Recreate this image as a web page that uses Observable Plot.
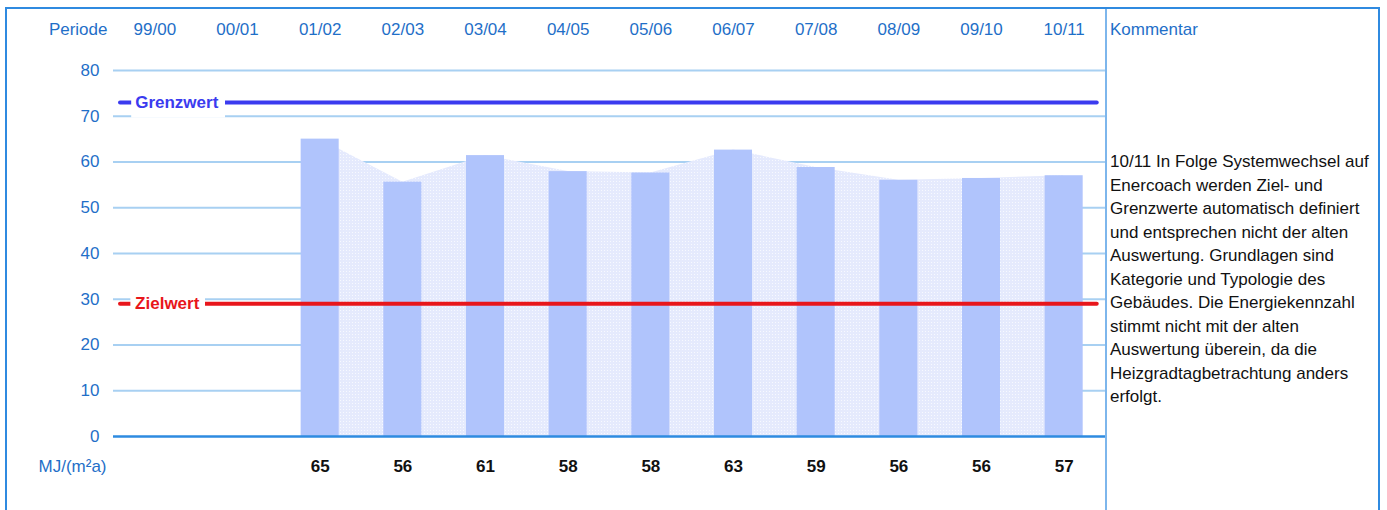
<!DOCTYPE html>
<html>
<head>
<meta charset="utf-8">
<script src="https://cdn.jsdelivr.net/npm/d3@7"></script>
<script src="https://cdn.jsdelivr.net/npm/@observablehq/plot@0.6"></script>
<style>
  html, body { margin: 0; padding: 0; background: #fff; }
  body { width: 1387px; height: 510px; position: relative; overflow: hidden;
         font-family: Arial, "Liberation Sans", sans-serif; }
  #chart { position: absolute; left: 0; top: 0; }
  #frame { position: absolute; left: 5px; top: 7px; width: 1375px; height: 540px;
           border: 2px solid #2f8ae0; box-sizing: border-box; pointer-events: none; }
  #divider { position: absolute; left: 1105px; top: 8px; width: 2px; height: 510px; background: #7db6ec; }
  #kommentar { position: absolute; left: 1110px; top: 19px; font-size: 17px; color: #1f6fc8; line-height: 22px; }
  #comment { position: absolute; left: 1110px; top: 150px; font-size: 17px; line-height: 23.5px; color: #111; white-space: nowrap; }
</style>
</head>
<body>
<div id="chart"></div>
<div id="divider"></div>
<div id="kommentar"></div>
<div id="comment"></div>
<div id="frame"></div>
<script>
// ---- data ----
const periods = ["99/00","00/01","01/02","02/03","03/04","04/05","05/06","06/07","07/08","08/09","09/10","10/11"];
const values  = [null, null, 65.0, 55.6, 61.4, 57.9, 57.6, 62.6, 58.8, 56.0, 56.4, 57.0];
const yTicks  = [0, 10, 20, 30, 40, 50, 60, 70, 80];
const grenzwert = 73;
const zielwert  = 29;
const headerLabel = "Periode";
const unitLabel = "MJ/(m²a)";
const commentTitle = "Kommentar";
const commentLines = [
  "10/11 In Folge Systemwechsel auf",
  "Enercoach werden Ziel- und",
  "Grenzwerte automatisch definiert",
  "und entsprechen nicht der alten",
  "Auswertung. Grundlagen sind",
  "Kategorie und Typologie des",
  "Gebäudes. Die Energiekennzahl",
  "stimmt nicht mit der alten",
  "Auswertung überein, da die",
  "Heizgradtagbetrachtung anders",
  "erfolgt."
];

const rows = periods.map((p, i) => ({i, period: p, value: values[i]}));
const withData = rows.filter(d => d.value != null);
const refs = [
  {name: "Grenzwert", value: grenzwert, color: "#3b3bef", labelX: 0.265, boxX1: -0.28, boxX2: 0.855},
  {name: "Zielwert",  value: zielwert,  color: "#e8161b", labelX: 0.15,  boxX1: -0.29, boxX2: 0.613}
];

const blue = "#1f6fc8";
const W = 0.23;

const chart = Plot.plot({
  width: 1106,
  height: 510,
  marginLeft: 113,
  marginRight: 1,
  marginTop: 70,
  marginBottom: 74,
  style: {fontFamily: "Arial, 'Liberation Sans', sans-serif", fontSize: "17px", background: "transparent", overflow: "visible"},
  x: {type: "linear", domain: [-0.5, 11.5], axis: null},
  y: {domain: [0, 80], axis: null},
  marks: [
    Plot.gridY(yTicks.filter(t => t > 0), {stroke: "#a8d0f2", strokeOpacity: 1, strokeWidth: 2}),
    Plot.axisY(yTicks, {tickSize: 0, tickPadding: 14, color: blue, fontSize: 17, label: null}),
    Plot.areaY(withData, {x: "i", y: "value", fill: "url(#dots)", curve: "linear"}),
    Plot.rectY(withData, {x1: d => d.i - W, x2: d => d.i + W, y: "value", fill: "#b0c4fc"}),
    Plot.ruleY([0], {stroke: "#2e8be0", strokeWidth: 2.5}),
    Plot.ruleY(refs, {y: "value", x1: -0.415, x2: 11.40, stroke: "color", strokeWidth: 4, strokeLinecap: "round"}),
    Plot.rect(refs, {x1: "boxX1", x2: "boxX2", y1: d => d.value - 3.4, y2: d => d.value + 3.4, fill: "white"}),
    Plot.text(refs, {x: "labelX", y: "value", text: "name", fill: "color", fontWeight: "bold", fontSize: 17}),
    // top header
    Plot.text(rows, {x: "i", text: "period", frameAnchor: "top", lineAnchor: "middle", dy: -41, fill: blue, fontSize: 17}),
    Plot.text([headerLabel], {frameAnchor: "top-left", lineAnchor: "middle", dx: -6, dy: -41, textAnchor: "end", fill: blue, fontSize: 17}),
    // bottom row
    Plot.text(withData, {x: "i", text: d => String(Math.round(d.value)), frameAnchor: "bottom", lineAnchor: "middle", dy: 30, fontWeight: "bold", fill: "#111", fontSize: 17}),
    Plot.text([unitLabel], {frameAnchor: "bottom-left", lineAnchor: "middle", dx: -7, dy: 30, textAnchor: "end", fill: blue, fontSize: 17})
  ]
});

chart.insertAdjacentHTML("afterbegin",
  `<defs><pattern id="dots" width="3" height="3" patternUnits="userSpaceOnUse">
     <rect width="3" height="3" fill="#e5eafd"/>
     <rect x="1" y="1" width="1" height="1" fill="#f7f9ff"/>
   </pattern></defs>`);
document.getElementById("chart").appendChild(chart);

document.getElementById("kommentar").textContent = commentTitle;
document.getElementById("comment").innerHTML = commentLines.map(s => s.replace(/&/g, "&amp;").replace(/</g, "&lt;")).join("<br>");
</script>
</body>
</html>
